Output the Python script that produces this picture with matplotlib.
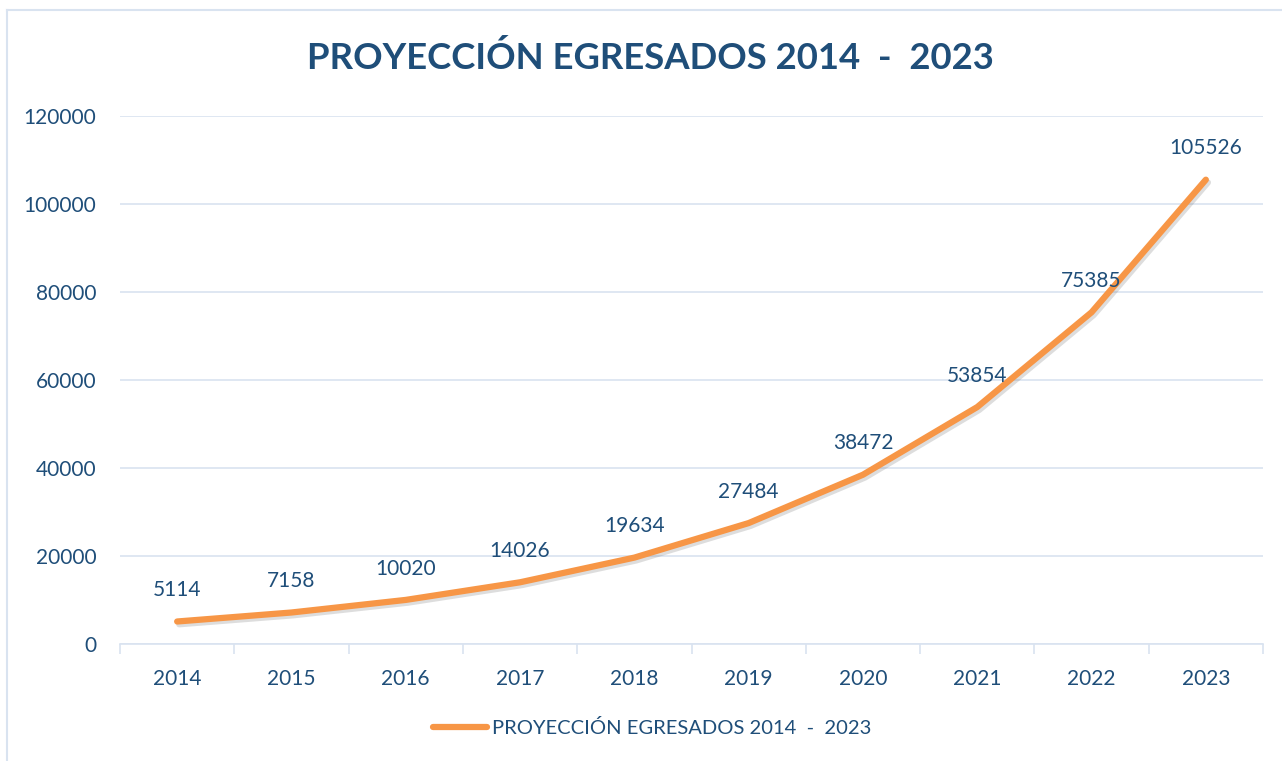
import matplotlib
matplotlib.use("Agg")
import matplotlib.pyplot as plt
import matplotlib.patheffects as pe
from matplotlib.lines import Line2D
import numpy as np

years = ["2014", "2015", "2016", "2017", "2018", "2019", "2020", "2021", "2022", "2023"]
values = [5114, 7158, 10020, 14026, 19634, 27484, 38472, 53854, 75385, 105526]
yticks = [0, 20000, 40000, 60000, 80000, 100000, 120000]
title = "PROYECCIÓN EGRESADOS 2014  -  2023"
series_name = "PROYECCIÓN EGRESADOS 2014  -  2023"

TEXT = "#1F4E79"
ORANGE = "#F79646"
GRID = "#D9E3F0"

plt.rcParams['font.family'] = ['Lato', 'DejaVu Sans']

fig = plt.figure(figsize=(12.82, 7.61), dpi=100)
ax = fig.add_axes([120/1282, 1-644/761, (1263-120)/1282, (644-116)/761])

x = np.arange(len(years))
ax.plot(x, values, color=ORANGE, lw=4.5, solid_capstyle='round', solid_joinstyle='round',
        path_effects=[pe.SimpleLineShadow(offset=(1.5, -2), shadow_color='#666666', alpha=0.22),
                      pe.Normal()], zorder=3)

for xi, v in zip(x, values):
    ax.annotate(str(v), (xi, v), xytext=(0, 22.5), textcoords='offset points',
                ha='center', va='center', fontsize=15, color=TEXT, zorder=4)

ax.set_xlim(-0.5, len(years) - 0.5)
ax.set_ylim(0, 120000)
ax.set_yticks(yticks)
ax.set_yticklabels([str(t) for t in yticks])
ax.yaxis.grid(True, color=GRID, lw=1.2)
ax.set_axisbelow(True)
ax.set_xticks(x)
ax.set_xticklabels(years)
ax.set_xticks(np.arange(-0.5, len(years), 1.0), minor=True)
ax.tick_params(axis='x', which='major', length=0, pad=18, labelsize=15, labelcolor=TEXT)
ax.tick_params(axis='x', which='minor', length=7, width=1.2, color=GRID)
ax.tick_params(axis='y', length=0, pad=17, labelsize=15, labelcolor=TEXT)
for s in ['top', 'right', 'left']:
    ax.spines[s].set_visible(False)
ax.spines['bottom'].set_color(GRID)
ax.spines['bottom'].set_linewidth(1.2)

fig.text(650/1282, 1-58/761, title, ha='center', va='center', fontsize=26.3,
         fontweight='bold', color=TEXT)

handle = Line2D([], [], color=ORANGE, lw=4.5, solid_capstyle='round')
leg = fig.legend([handle], [series_name], loc='center', bbox_to_anchor=(652/1282, 1-728/761),
                 frameon=False, fontsize=14.5, handlelength=2.7, handletextpad=0.2)
for t in leg.get_texts():
    t.set_color(TEXT)

# chart area border (top and left visible)
fig.add_artist(Line2D([7/1282, 7/1282], [0, 1-10/761], transform=fig.transFigure, color=GRID, lw=1.5))
fig.add_artist(Line2D([7/1282, 1], [1-10/761, 1-10/761], transform=fig.transFigure, color=GRID, lw=1.5))

fig.savefig("out.png", dpi=100)
